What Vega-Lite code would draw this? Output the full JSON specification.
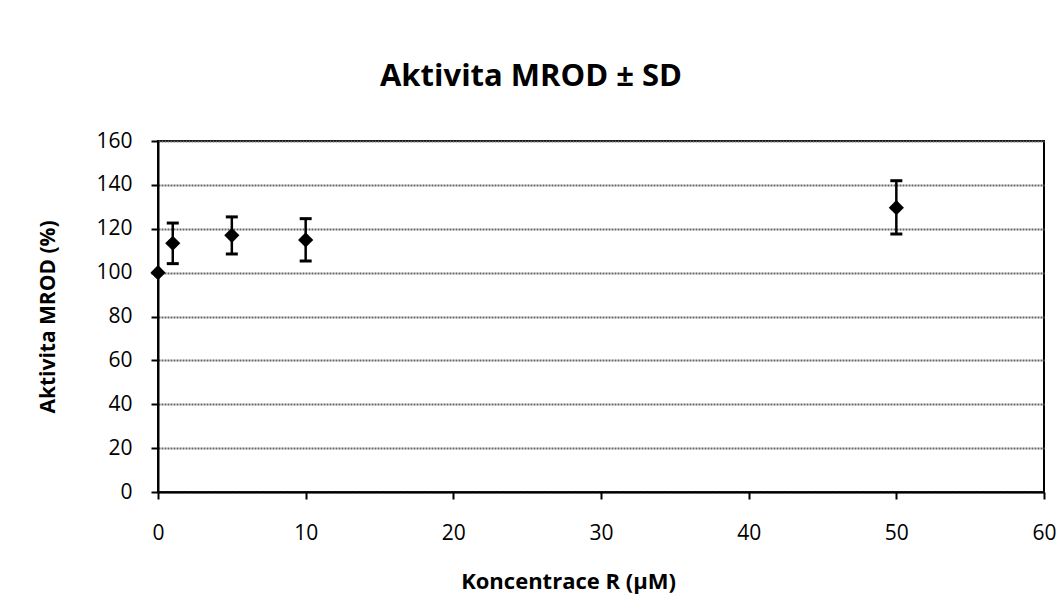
{
  "$schema": "https://vega.github.io/schema/vega-lite/v6.json",
  "width": 886,
  "height": 351,
  "autosize": "none",
  "padding": {"left": 158, "top": 141, "right": 17, "bottom": 118},
  "background": "white",
  "config": {
    "view": {"stroke": "black", "strokeWidth": 2},
    "font": "Open Sans"
  },
  "title": {
    "text": "Aktivita MROD ± SD",
    "font": "Open Sans",
    "fontSize": 31,
    "fontWeight": "bold",
    "color": "black",
    "anchor": "middle",
    "dx": -70,
    "offset": 37
  },
  "data": {
    "values": [
      {"conc": 0, "mean": 100, "lo": null, "hi": null},
      {"conc": 1, "mean": 113.4, "lo": 104.1, "hi": 122.6},
      {"conc": 5, "mean": 117.0, "lo": 108.5, "hi": 125.4},
      {"conc": 10, "mean": 114.9, "lo": 105.3, "hi": 124.6},
      {"conc": 50, "mean": 129.6, "lo": 117.6, "hi": 141.9}
    ]
  },
  "encoding": {
    "x": {
      "field": "conc",
      "type": "quantitative",
      "scale": {"domain": [0, 60], "nice": false, "zero": false},
      "axis": {
        "values": [0, 10, 20, 30, 40, 50, 60],
        "grid": false,
        "title": "Koncentrace R (µM)",
        "titleFont": "Open Sans",
        "titleFontSize": 22,
        "titleFontWeight": "bold",
        "titleColor": "black",
        "titleX": 410,
        "titleY": 96,
        "titleAlign": "center",
        "titleBaseline": "alphabetic",
        "labelFont": "Open Sans",
        "labelFontSize": 21,
        "labelColor": "black",
        "labelPadding": 23,
        "labelFlush": false,
        "tickSize": 7,
        "tickWidth": 2,
        "tickColor": "black",
        "domainColor": "black",
        "domainWidth": 2
      }
    }
  },
  "layer": [
    {
      "mark": {"type": "rule", "color": "black", "strokeWidth": 2.5},
      "encoding": {
        "y": {
          "field": "lo",
          "type": "quantitative",
          "scale": {"domain": [0, 160], "nice": false},
          "axis": {
            "values": [0, 20, 40, 60, 80, 100, 120, 140, 160],
            "grid": true,
            "gridColor": "#666666",
            "gridWidth": 2,
            "gridDash": [2, 1],
            "title": "Aktivita MROD (%)",
            "titleFont": "Open Sans",
            "titleFontSize": 21,
            "titleFontWeight": "bold",
            "titleColor": "black",
            "titleX": -104,
            "titleY": 175.5,
            "titleAngle": 270,
            "titleAlign": "center",
            "titleBaseline": "alphabetic",
            "labelFont": "Open Sans",
            "labelFontSize": 21,
            "labelColor": "black",
            "labelPadding": 19,
            "labelFlush": false,
            "tickSize": 7,
            "tickWidth": 2,
            "tickColor": "black",
            "domainColor": "black",
            "domainWidth": 2
          }
        },
        "y2": {"field": "hi"}
      }
    },
    {
      "mark": {"type": "tick", "orient": "horizontal", "color": "black", "size": 12, "thickness": 3, "opacity": 1},
      "encoding": {"y": {"field": "hi", "type": "quantitative"}}
    },
    {
      "mark": {"type": "tick", "orient": "horizontal", "color": "black", "size": 12, "thickness": 3, "opacity": 1},
      "encoding": {"y": {"field": "lo", "type": "quantitative"}}
    },
    {
      "mark": {"type": "point", "shape": "diamond", "filled": true, "size": 230, "color": "black", "opacity": 1},
      "encoding": {"y": {"field": "mean", "type": "quantitative"}}
    }
  ]
}
